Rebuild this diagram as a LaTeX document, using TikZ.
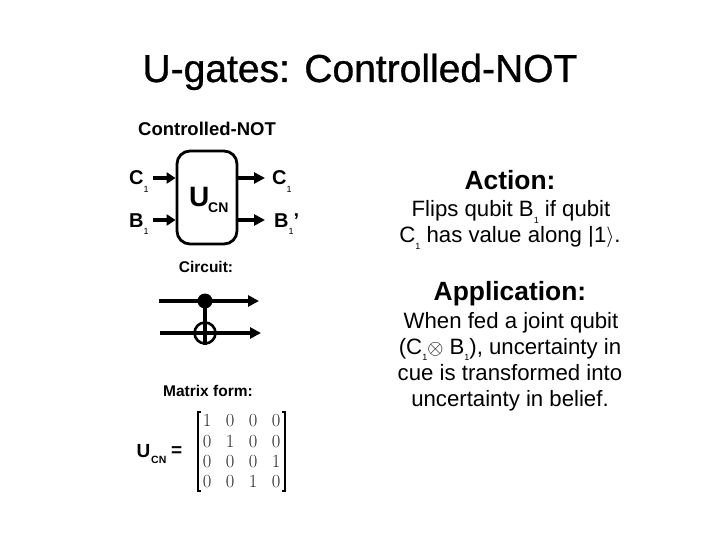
\documentclass[tikz,border=0pt]{standalone}
\usepackage{fontspec}
\setmainfont{Liberation Sans}
\newfontfamily\titlefont[FakeBold=0.8]{Liberation Sans}
\newfontfamily\lmfont{Latin Modern Roman}
\newcommand{\subd}[1]{\raisebox{-0.3em}{\fontsize{9}{9}\selectfont #1}}
\newcommand{\subs}[1]{\raisebox{-0.36em}{\fontsize{9}{9}\selectfont\mdseries #1}}
\usetikzlibrary{arrows.meta}
\tikzset{
  head/.style={font=\fontsize{18.5}{18.5}\selectfont\bfseries,inner sep=0pt,anchor=center},
  small/.style={font=\fontsize{15.5}{15.5}\selectfont\bfseries,inner sep=0pt,anchor=center},
  body/.style={font=\fontsize{22.2}{22.2}\selectfont,inner sep=0pt,anchor=base},
  bighead/.style={font=\fontsize{26.4}{26.4}\selectfont\bfseries,inner sep=0pt,anchor=base},
  lbl/.style={font=\fontsize{20}{20}\selectfont\bfseries,inner sep=0pt,anchor=base west},
  wire/.style={line width=3.6pt,-{Triangle[length=11pt,width=11pt]}},
  ent/.style={font=\lmfont\fontsize{18.5}{18.5}\selectfont,inner sep=0pt,anchor=base,text=black!85},
  brk/.style={line width=1.3pt}
}
\begin{document}
\begin{tikzpicture}[x=1pt,y=-1pt]
\useasboundingbox (0,0) rectangle (720,540);
\fill[white] (0,0) rectangle (720,540);
\node[inner sep=0pt,anchor=base,font=\titlefont\fontsize{39}{39}\selectfont] (title) at (360,82) {U-gates: Controlled-NOT};

\node[head] (hcn) at (207,129) {Controlled-NOT};
\node[draw,line width=2.8pt,rounded corners=13pt,minimum width=60pt,minimum height=93pt,inner sep=0pt] (box) at (207,197.5) {};
\node[inner sep=0pt,anchor=base west,font=\fontsize{28}{28}\selectfont\bfseries] (u) at (189,207) {U};
\node[inner sep=0pt,anchor=base west,font=\fontsize{14}{14}\selectfont\bfseries] (ucn) at (208,213) {CN};

\node[lbl] (cl) at (129,185) {C\subs{1}};
\node[lbl] (bl) at (129,227) {B\subs{1}};
\node[lbl] (cr) at (272,185) {C\subs{1}};
\node[lbl] (br) at (274,227) {B\subs{1}’};
\coordinate (a1) at (153,178);
\coordinate (a2) at (153,220);
\coordinate (a3) at (265,178);
\coordinate (a4) at (265,220);
\draw[line width=3.6pt,-{Triangle[length=9pt,width=11pt]}] (a1) -- (a1-|box.west);
\draw[line width=3.6pt,-{Triangle[length=9pt,width=11pt]}] (a2) -- (a2-|box.west);
\draw[line width=3.6pt,-{Triangle[length=11pt,width=11pt]}] (a3-|box.east) -- (a3);
\draw[line width=3.6pt,-{Triangle[length=11pt,width=11pt]}] (a4-|box.east) -- (a4);

\node[small] (hc) at (206,267) {Circuit:};
\coordinate (w1s) at (159,301);
\coordinate (w1e) at (259,301);
\coordinate (w2s) at (160,333);
\coordinate (w2e) at (261,333);
\draw[wire] (w1s) -- (w1e);
\draw[wire] (w2s) -- (w2e);
\node[circle,fill=black,minimum size=15pt,inner sep=0pt] (ctrl) at (205,301) {};
\node[circle,draw,line width=2.6pt,minimum size=21pt,inner sep=0pt] (targ) at (205,333) {};
\draw[line width=3.6pt] (ctrl.center) -- (targ.south);

\node[small] (hm) at (208,391) {Matrix form:};
\node[inner sep=0pt,anchor=base west,font=\fontsize{19}{19}\selectfont\bfseries] (ueq) at (136.5,457) {U};
\node[inner sep=0pt,anchor=base west,font=\fontsize{10.5}{10.5}\selectfont\bfseries] (ueq2) at (151,463) {CN};
\node[inner sep=0pt,anchor=base west,font=\fontsize{19}{19}\selectfont\bfseries] (eq) at (171,456) {=};
\draw[brk] (201,412) -- (198,412) -- (198,491) -- (201,491);
\draw[brk] (282,412) -- (285,412) -- (285,491) -- (282,491);
\foreach \r/\y/\a/\b/\c/\d in {1/426/1/0/0/0,2/447/0/1/0/0,3/467/0/0/0/1,4/487/0/0/1/0}{
  \node[ent] (m\r a) at (207,\y) {\a};
  \node[ent] (m\r b) at (230,\y) {\b};
  \node[ent] (m\r c) at (253,\y) {\c};
  \node[ent] (m\r d) at (276,\y) {\d};
}

\node[bighead] (act) at (510,190) {Action:};
\node[body] (t1) at (511,217) {Flips qubit B\subd{1} if qubit};
\node[body] (t2) at (510,243) {C\subd{1} has value along |1\raisebox{0.02em}{\fontsize{22}{22}\selectfont\lmfont$\rangle$}.};
\node[bighead] (app) at (510,300) {Application:};
\node[body] (t3) at (511,328) {When fed a joint qubit};
\node[body] (t4) at (510,354) {(C\subd{1}{\lmfont$\otimes$} B\subd{1}), uncertainty in};
\node[body] (t5) at (510,380) {cue is transformed into};
\node[body] (t6) at (510,406) {uncertainty in belief.};
\end{tikzpicture}
\end{document}
